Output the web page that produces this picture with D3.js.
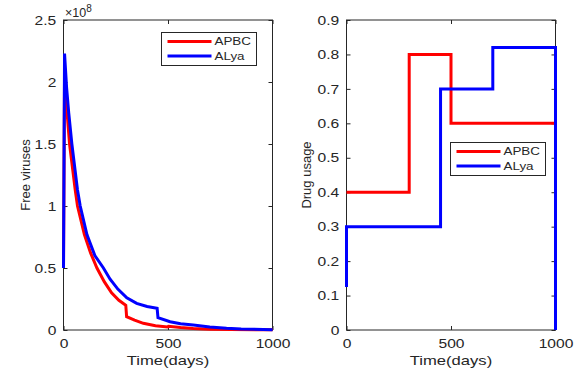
<!DOCTYPE html>
<html lang="en">
<head>
<meta charset="UTF-8">
<title>Free viruses and drug usage</title>
<style>
  body { margin: 0; background: #fff; }
  text { font-family: "Liberation Sans", Arial, sans-serif; fill: #262626; }
  .frame { fill: none; stroke: #262626; stroke-width: 1; }
  .tick line { stroke: #262626; }
  .domain { display: none; }
</style>
</head>
<body>
<div id="chart"></div>
<script src="https://d3js.org/d3.v7.min.js"></script>
<script>
// ---- data ----
const seriesNames = ["APBC", "ALya"];
const seriesColors = ["#ff0000", "#0000ff"];

// Free viruses (x1e8)
const virusTimeApbc = [0, 5, 15, 29, 56, 67, 100, 130, 160, 195, 230, 265, 298, 302, 340, 382, 440, 498, 502, 560, 621, 700, 800, 1000];
const virusApbc     = [0.5, 2.05, 1.8, 1.5, 1.13, 1.0, 0.77, 0.62, 0.5, 0.39, 0.3, 0.24, 0.2, 0.107, 0.08, 0.054, 0.035, 0.024, 0.03, 0.02, 0.012, 0.007, 0.004, 0.002];
const virusTimeAlya = [0, 5, 15, 25, 40, 67, 80, 112, 150, 191, 223, 260, 303, 350, 400, 448, 452, 510, 560, 621, 700, 780, 850, 1000];
const virusAlya     = [0.5, 2.23, 1.95, 1.75, 1.5, 1.13, 1.0, 0.77, 0.6, 0.5, 0.41, 0.33, 0.26, 0.215, 0.19, 0.175, 0.1, 0.067, 0.05, 0.04, 0.025, 0.014, 0.008, 0.003];

// Drug usage (step functions)
const drugTimeApbc = [0, 300, 500, 1000, 1000];
const drugApbc     = [0.4, 0.8, 0.6, 0.6, 0];
const drugTimeAlya = [0, 0, 450, 700, 1000, 1000];
const drugAlya     = [0.125, 0.3, 0.7, 0.82, 0.82, 0];

const xTicks = [0, 500, 1000];
const virusTicks = [0, 0.5, 1, 1.5, 2, 2.5];
const drugTicks = [0, 0.1, 0.2, 0.3, 0.4, 0.5, 0.6, 0.7, 0.8, 0.9];

const W = 585, H = 373;
const svg = d3.select("#chart").append("svg")
  .attr("width", W).attr("height", H);

// the source picture is a bit wider than tall, so text is stretched sideways
function stretch(sel, s) {
  sel.each(function () {
    const x0 = +this.getAttribute("x") || 0;
    d3.select(this).attr("transform", `translate(${x0},0) scale(${s},1) translate(${-x0},0)`);
  });
}

function panel(opts) {
  const x = d3.scaleLinear().domain([0, 1000]).range([opts.left, opts.right]);
  const y = d3.scaleLinear().domain(opts.yDomain).range([330, 20]);
  const g = svg.append("g");

  g.append("rect").attr("class", "frame")
    .attr("x", opts.left).attr("y", 20)
    .attr("width", opts.right - opts.left).attr("height", 310);

  // ticks, inward, mirrored on all sides
  g.append("g").attr("transform", "translate(0,330)")
    .call(d3.axisBottom(x).tickValues(xTicks).tickSize(-4).tickPadding(8.5).tickFormat(d3.format("d")))
    .selectAll("text").style("font-size", "13px").call(stretch, 1.2);
  g.append("g").attr("transform", "translate(0,20)")
    .call(d3.axisTop(x).tickValues(xTicks).tickSize(-4).tickFormat(""));
  g.append("g").attr("transform", `translate(${opts.left},0)`)
    .call(d3.axisLeft(y).tickValues(opts.yTicks).tickSize(-4).tickPadding(6).tickFormat(d => d3.format("~g")(d)))
    .selectAll("text").style("font-size", "13px")
    .each(function () { d3.select(this).attr("transform", "scale(1.2,1)"); });
  g.append("g").attr("transform", `translate(${opts.right},0)`)
    .call(d3.axisRight(y).tickValues(opts.yTicks).tickSize(-4).tickFormat(""));

  const line = d3.line().x(d => x(d[0])).y(d => y(d[1])).curve(opts.curve);
  opts.series.forEach((s, i) => {
    g.append("path")
      .datum(d3.zip(s[0], s[1]))
      .attr("fill", "none")
      .attr("stroke", seriesColors[i])
      .attr("stroke-width", 3)
      .attr("stroke-linejoin", "miter")
      .attr("d", line);
  });

  g.append("text")
    .attr("x", (opts.left + opts.right) / 2).attr("y", 365.5)
    .attr("text-anchor", "middle").style("font-size", "13.5px")
    .text("Time(days)")
    .call(stretch, 1.23);
  g.append("text")
    .attr("transform", `translate(${opts.ylabelX},175) rotate(-90)`)
    .attr("text-anchor", "middle").style("font-size", "13px")
    .text(opts.ylabel);

  // legend
  const lg = g.append("g").attr("transform", `translate(${opts.legend[0]},${opts.legend[1]})`);
  lg.append("rect").attr("width", 95).attr("height", 33)
    .attr("fill", "#fff").attr("stroke", "#262626").attr("stroke-width", 1);
  seriesNames.forEach((name, i) => {
    const yy = 9 + i * 14.5;
    lg.append("line").attr("x1", 6).attr("x2", 50).attr("y1", yy).attr("y2", yy)
      .attr("stroke", seriesColors[i]).attr("stroke-width", 3);
    lg.append("text").attr("x", 53).attr("y", yy + 4)
      .style("font-size", "11px").text(name)
      .call(stretch, 1.22);
  });
  return g;
}

panel({
  left: 63.5, right: 272.5, yDomain: [0, 2.5], yTicks: virusTicks,
  curve: d3.curveLinear, ylabel: "Free viruses", ylabelX: 29.5,
  legend: [161.5, 32.5],
  series: [[virusTimeApbc, virusApbc], [virusTimeAlya, virusAlya]]
});

// exponent label
const ex = svg.append("text").attr("x", 65).attr("y", 17).style("font-size", "12.5px");
ex.append("tspan").text("\u00d710");
ex.append("tspan").attr("dy", -5).style("font-size", "10px").text("8");

panel({
  left: 346.5, right: 555.5, yDomain: [0, 0.9], yTicks: drugTicks,
  curve: d3.curveStepAfter, ylabel: "Drug usage", ylabelX: 311,
  legend: [450.5, 142.5],
  series: [[drugTimeApbc, drugApbc], [drugTimeAlya, drugAlya]]
});
</script>
</body>
</html>
